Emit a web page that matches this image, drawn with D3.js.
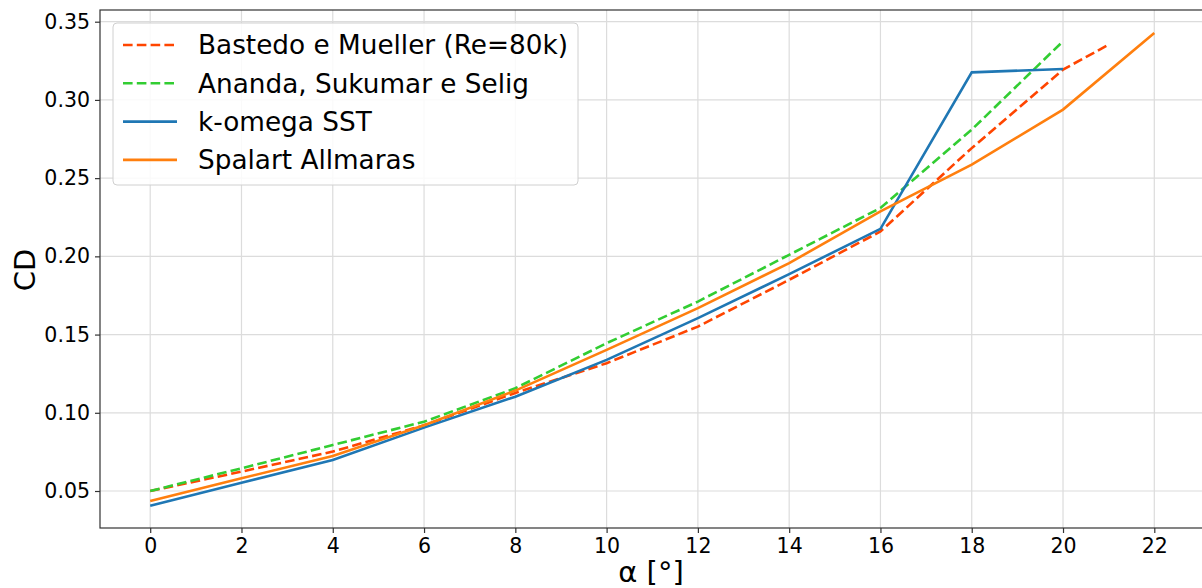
<!DOCTYPE html>
<html><head><meta charset="utf-8">
<script src="https://cdn.jsdelivr.net/npm/d3@7"></script>
<style>body{margin:0;background:#fff}svg{display:block;font-family:"DejaVu Sans",sans-serif}</style>
</head><body><svg id="c" width="1202" height="588"></svg>
<script>
const alphaBastedo = [0,2,4,6,8,10,12,14,16,18,20,21];
const cdBastedo = [0.050,0.0624,0.0752,0.092,0.1127,0.1317,0.1551,0.185,0.2159,0.2692,0.3194,0.3353];
const alphaAnanda = [0,2,4,6,8,10,12,14,16,18,20];
const cdAnanda = [0.050,0.0645,0.0794,0.0943,0.1157,0.1445,0.1711,0.2010,0.2309,0.281,0.3375];
const alphaKomega = [0,2,4,6,8,10,12,14,16,18,20];
const cdKomega = [0.0406,0.0553,0.0698,0.0905,0.1103,0.1338,0.1605,0.1886,0.2176,0.3176,0.3198];
const alphaSpalart = [0,2,4,6,8,10,12,14,16,18,20,22];
const cdSpalart = [0.0436,0.0581,0.0724,0.092,0.1142,0.1402,0.1669,0.1957,0.2287,0.2586,0.2938,0.3428];
const xTicks = [0,2,4,6,8,10,12,14,16,18,20,22];
const yTicks = [0.05,0.10,0.15,0.20,0.25,0.30,0.35];
const seriesNames = ["Bastedo e Mueller (Re=80k)","Ananda, Sukumar e Selig","k-omega SST","Spalart Allmaras"];
const seriesColors = ["#ff4500","#32cd32","#1f77b4","#ff7f0e"];
const seriesDashed = [true,true,false,false];

const series = [
  {x:alphaBastedo,y:cdBastedo},{x:alphaAnanda,y:cdAnanda},
  {x:alphaKomega,y:cdKomega},{x:alphaSpalart,y:cdSpalart}
].map((s,i)=>({pts:s.x.map((a,j)=>[a,s.y[j]]),name:seriesNames[i],color:seriesColors[i],dash:seriesDashed[i]}));

const L=100,R=1204.5,T=10,B=528;
const svg=d3.select("#c");
const x=d3.scaleLinear().domain([-1.1,23.1]).range([L,R]);
const y=d3.scaleLinear().domain([0.02635,0.35748]).range([B,T]);

// grid
const g=svg.append("g");
g.selectAll(".gx").data(xTicks).join("line").attr("x1",d=>x(d)).attr("x2",d=>x(d)).attr("y1",T).attr("y2",B).attr("stroke","#dcdcdc").attr("stroke-width",1.2);
g.selectAll(".gy").data(yTicks).join("line").attr("y1",d=>y(d)).attr("y2",d=>y(d)).attr("x1",L).attr("x2",R).attr("stroke","#dcdcdc").attr("stroke-width",1.2);

// lines
const line=d3.line().x(d=>x(d[0])).y(d=>y(d[1]));
svg.append("g").selectAll("path").data(series).join("path")
  .attr("d",d=>line(d.pts)).attr("fill","none").attr("stroke",d=>d.color)
  .attr("stroke-width",2.6).attr("stroke-dasharray",d=>d.dash?"9.6,4.2":null);

// axes
const xa=svg.append("g").attr("transform",`translate(0,${B})`).call(d3.axisBottom(x).tickValues(xTicks).tickSize(5).tickPadding(5).tickFormat(d3.format("d")));
const ya=svg.append("g").attr("transform",`translate(${L},0)`).call(d3.axisLeft(y).tickValues(yTicks).tickSize(5).tickPadding(5).tickFormat(d3.format(".2f")));
[xa,ya].forEach(a=>{a.select(".domain").remove();a.selectAll("text").attr("font-size",20.5).attr("fill","#000").attr("font-family","DejaVu Sans");a.selectAll("line").attr("stroke","#333").attr("stroke-width",1.2);});
xa.selectAll("text").attr("dy","0.71em");
// spines
svg.append("rect").attr("x",L).attr("y",T).attr("width",R-L).attr("height",B-T).attr("fill","none").attr("stroke","#333").attr("stroke-width",1.2);

// labels
svg.append("text").attr("x",(L+1202)/2).attr("y",582).attr("text-anchor","middle").attr("font-size",29).text("α [°]");
svg.append("text").attr("transform","translate(35,270) rotate(-90)").attr("text-anchor","middle").attr("font-size",29).text("CD");

// legend
const lg=svg.append("g");
lg.append("rect").attr("x",113).attr("y",23).attr("width",465).attr("height",162).attr("rx",4).attr("fill","#fff").attr("fill-opacity",0.85).attr("stroke","#d0d0d0").attr("stroke-width",1);
series.forEach((s,i)=>{
  const yy=45+i*38.3;
  lg.append("line").attr("x1",123).attr("x2",177).attr("y1",yy).attr("y2",yy).attr("stroke",s.color).attr("stroke-width",2.6).attr("stroke-dasharray",s.dash?"9.6,4.2":null);
  lg.append("text").attr("x",198).attr("y",yy).attr("dy","0.35em").attr("font-size",26.3).text(s.name);
});
</script></body></html>
